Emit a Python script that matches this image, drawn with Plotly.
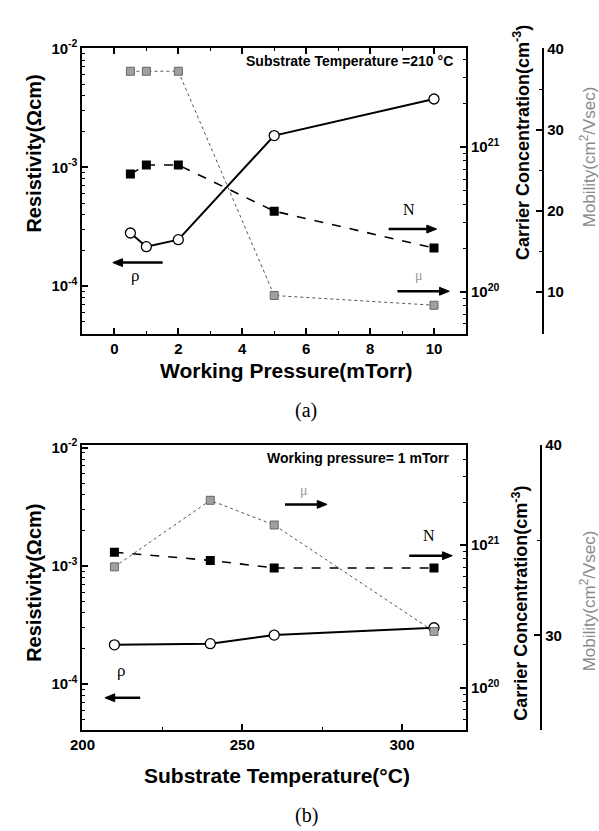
import plotly.graph_objects as go

# ---- data ----
pressure_a = [0.5, 1, 2, 5, 10]
rho_a = [2.8e-4, 2.15e-4, 2.46e-4, 1.85e-3, 3.76e-3]
carrier_a = [6.5e20, 7.5e20, 7.5e20, 3.6e20, 2.0e20]
mobility_a = [37.2, 37.2, 37.2, 9.6, 8.4]

temp_b = [210, 240, 260, 310]
rho_b = [2.15e-4, 2.2e-4, 2.6e-4, 3.0e-4]
carrier_b = [8.9e20, 7.8e20, 6.9e20, 6.9e20]
mobility_b = [33.6, 37.1, 35.8, 30.2]

W, H = 599, 831
FONT = "Arial, 'Liberation Sans', sans-serif"
SERIF = "'Times New Roman', 'Liberation Serif', serif"


def px(x):
    return x / W


def py(y):
    return 1 - y / H


fig = go.Figure()

rho_style = dict(mode="lines+markers", line=dict(color="black", width=2),
                 marker=dict(symbol="circle", size=10, color="white",
                             line=dict(color="black", width=1.3)))
n_style = dict(mode="lines+markers", line=dict(color="black", width=1.6, dash="dash"),
               marker=dict(symbol="square", size=9, color="black"))
mu_style = dict(mode="lines+markers", line=dict(color="#555555", width=1, dash="dot"),
                marker=dict(symbol="square", size=8, color="#a0a0a0",
                            line=dict(color="#666666", width=1)))

# panel (a)
fig.add_trace(go.Scatter(x=pressure_a, y=rho_a, xaxis="x", yaxis="y", **rho_style))
fig.add_trace(go.Scatter(x=pressure_a, y=carrier_a, xaxis="x", yaxis="y2", **n_style))
fig.add_trace(go.Scatter(x=pressure_a, y=mobility_a, xaxis="x", yaxis="y3", **mu_style))
# panel (b)
fig.add_trace(go.Scatter(x=temp_b, y=rho_b, xaxis="x2", yaxis="y4", **rho_style))
fig.add_trace(go.Scatter(x=temp_b, y=carrier_b, xaxis="x2", yaxis="y5", **n_style))
fig.add_trace(go.Scatter(x=temp_b, y=mobility_b, xaxis="x2", yaxis="y6", **mu_style))

tickfont = dict(family=FONT, size=15, color="black", weight="bold")
dom_x = [px(71), px(463)]
dom_a = [py(327), py(38)]
dom_b = [py(729), py(440)]

rho_tv = [1e-4, 1e-3, 1e-2]
rho_tt = ["10<sup>-4</sup>", "10<sup>-3</sup>", "10<sup>-2</sup>"]
rho_minor = [m * 10.0 ** e for e in (-5, -4, -3) for m in range(2, 10)
             if 10 ** -4.4 < m * 10.0 ** e < 1e-2]
car_tv = [1e20, 1e21]
car_tt = ["10<sup>20</sup>", "10<sup>21</sup>"]
car_minor = [m * 10.0 ** e for e in (19, 20, 21) for m in range(2, 10)
             if 10 ** 19.7 < m * 10.0 ** e < 10 ** 21.7]

common_axis = dict(showline=True, linecolor="black", linewidth=2, showgrid=False,
                   zeroline=False, tickfont=tickfont, ticks="inside", ticklen=6,
                   tickwidth=2, tickcolor="black")


def rho_axis(dom, anchor, rng):
    return dict(common_axis, domain=dom, anchor=anchor, type="log", range=rng,
                tickvals=rho_tv, ticktext=rho_tt,
                minor=dict(tickvals=rho_minor, ticks="inside", ticklen=3,
                           tickwidth=1, tickcolor="black"))


def car_axis(over, anchor, rng):
    return dict(common_axis, overlaying=over, side="right", anchor=anchor, type="log",
                range=rng, tickvals=car_tv, ticktext=car_tt,
                minor=dict(tickvals=car_minor, ticks="inside", ticklen=3,
                           tickwidth=1, tickcolor="black"))


fig.update_layout(
    width=W, height=H, autosize=False,
    margin=dict(l=0, r=0, t=0, b=0),
    paper_bgcolor="white", plot_bgcolor="white",
    showlegend=False,
    font=dict(family=FONT),
    xaxis=dict(common_axis, domain=dom_x, anchor="y", range=[-1, 11],
               tickvals=[0, 2, 4, 6, 8, 10], mirror="ticks",
               minor=dict(tickvals=[1, 3, 5, 7, 9], ticks="inside", ticklen=3,
                          tickwidth=1, tickcolor="black")),
    yaxis=rho_axis(dom_a, "x", [-4.4, -2]),
    yaxis2=car_axis("y", "x", [19.71, 21.68]),
    yaxis3=dict(common_axis, overlaying="y", side="right", anchor="free",
                position=px(542), range=[4.9, 40], tickvals=[10, 20, 30, 40],
                minor=dict(tickvals=[15, 25, 35], ticks="inside", ticklen=3,
                           tickwidth=1, tickcolor="black")),
    xaxis2=dict(common_axis, domain=dom_x, anchor="y4", range=[200, 320],
                tickvals=[200, 250, 300], mirror=True,
                minor=dict(tickvals=[225, 275], ticks="inside", ticklen=3,
                           tickwidth=1, tickcolor="black")),
    yaxis4=rho_axis(dom_b, "x2", [-4.39, -1.98]),
    yaxis5=car_axis("y4", "x2", [19.7, 21.7]),
    yaxis6=dict(common_axis, overlaying="y4", side="right", anchor="free",
                position=px(540), range=[25, 40], tickvals=[30, 40],
                minor=dict(tickvals=[35], ticks="inside", ticklen=3,
                           tickwidth=1, tickcolor="black")),
)

ann = []
shapes = []


def text(x, y, s, size=14, angle=0, color="black", family=FONT, xanchor="center"):
    ann.append(dict(x=px(x), y=py(y), xref="paper", yref="paper", text=s,
                    showarrow=False, textangle=angle, xanchor=xanchor, yanchor="middle",
                    font=dict(family=family, size=size, color=color)))


def arrow(x_head, y, x_tail, color="black"):
    d = 1 if x_head > x_tail else -1
    hl = 10  # head length in px
    shapes.append(dict(type="line", xref="paper", yref="paper",
                       x0=px(x_tail), x1=px(x_head - d * hl), y0=py(y), y1=py(y),
                       line=dict(color=color, width=2.5)))
    path = "M {} {} L {} {} L {} {} Z".format(
        px(x_head), py(y), px(x_head - d * hl), py(y - 4), px(x_head - d * hl), py(y + 4))
    shapes.append(dict(type="path", xref="paper", yref="paper", path=path,
                       fillcolor=color, line=dict(color=color, width=1)))


# axis titles
text(22, 145, "<b>Resistivity(Ωcm)</b>", size=20, angle=-90)
text(520, 133, "<b>Carrier Concentration(cm<sup>-3</sup>)</b>", size=18, angle=-90)
text(588, 148, "Mobility(cm<sup>2</sup>/Vsec)", size=17, angle=-90, color="#8a8a8a")
text(279, 364, "<b>Working Pressure(mTorr)</b>", size=21)
text(300, 405, "(a)", size=20, family=SERIF)

text(22, 580, "<b>Resistivity(Ωcm)</b>", size=20, angle=-90)
text(518, 600, "<b>Carrier Concentration(cm<sup>-3</sup>)</b>", size=18, angle=-90)
text(588, 598, "Mobility(cm<sup>2</sup>/Vsec)", size=17, angle=-90, color="#8a8a8a")
text(270, 775, "<b>Substrate Temperature(°C)</b>", size=21)
text(300, 815, "(b)", size=20, family=SERIF)

# in-plot labels
text(452, 51, "<b>Substrate Temperature =210 °C</b>", size=14, xanchor="right")
text(405, 201, "N", size=16, family=SERIF)
arrow(433, 221, 384)
text(415, 268, "μ", size=14, family=SERIF, color="#999999")
arrow(446, 284, 393)
text(125, 268, "ρ", size=17, family=SERIF)
arrow(102, 255, 153)

text(448, 453, "<b>Working pressure= 1 mTorr</b>", size=14, xanchor="right")
text(297, 486, "μ", size=14, family=SERIF, color="#999999")
arrow(321, 500, 278)
text(425, 532, "N", size=16, family=SERIF)
arrow(449, 552, 405)
text(110, 668, "ρ", size=17, family=SERIF)
arrow(94, 696, 130)

fig.update_layout(annotations=ann, shapes=shapes)
fig.write_html("out.html")
